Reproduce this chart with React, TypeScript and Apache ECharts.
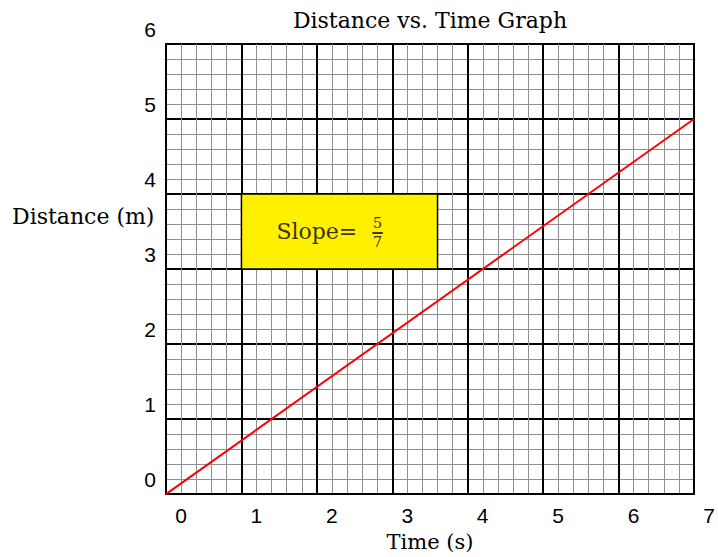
import React, { useEffect, useRef } from "react";
import * as echarts from "echarts";

const xRange = [0, 7];
const yRange = [0, 6];
const linePoints: [number, number][] = [[0, 0], [7, 5]];
const slopeBox: [number, number][] = [[1, 3], [3.6, 4]];
const slopeText = "Slope=";
const slopeNum = "5";
const slopeDen = "7";
const titleText = "Distance vs. Time Graph";
const xName = "Time (s)";
const yName = "Distance (m)";

const SERIF = "'DejaVu Serif', 'Liberation Serif', serif";
const SANS = "'Liberation Sans', Arial, Helvetica, sans-serif";

export default function App() {
  const ref = useRef<HTMLDivElement>(null);
  useEffect(() => {
    if (!ref.current) return;
    const chart = echarts.init(ref.current, undefined, { renderer: "svg" });
    const axisCommon = {
      type: "value" as const,
      interval: 1,
      axisLine: { show: true, lineStyle: { color: "#000", width: 2 } },
      axisTick: { show: false },
      splitLine: { show: true, lineStyle: { color: "#000", width: 2 } },
      minorTick: { show: false, splitNumber: 5 },
      minorSplitLine: { show: true, lineStyle: { color: "#8f8f8f", width: 1 } },
    };
    chart.setOption({
      animation: false,
      grid: {
        left: 166, right: 24, top: 44, bottom: 61,
        show: true, borderColor: "#000", borderWidth: 2,
      },
      xAxis: {
        ...axisCommon,
        min: xRange[0], max: xRange[1],
        name: xName,
        nameLocation: "middle",
        nameGap: 34,
        nameTextStyle: { fontFamily: SERIF, fontSize: 21, color: "#000" },
        axisLabel: {
          show: true, color: "#000", fontFamily: SANS, fontSize: 21, margin: 11,
          padding: [0, 0, 0, 30], showMinLabel: true, showMaxLabel: true,
        },
      },
      yAxis: {
        ...axisCommon,
        min: yRange[0], max: yRange[1],
        axisLabel: {
          show: true, color: "#000", fontFamily: SANS, fontSize: 21, margin: 10,
          verticalAlign: "bottom", lineHeight: 30,
          showMinLabel: true, showMaxLabel: true,
        },
      },
      graphic: [
        {
          type: "text", x: 430, y: 20,
          style: { text: titleText, fontFamily: SERIF, fontSize: 22, fill: "#000", align: "center", verticalAlign: "middle" },
        },
        {
          type: "text", x: 12, y: 216,
          style: { text: yName, fontFamily: SERIF, fontSize: 22, fill: "#000", verticalAlign: "middle", align: "left" },
        },
      ],
      series: [
        {
          type: "line",
          data: linePoints,
          symbol: "none",
          lineStyle: { color: "#ff0000", width: 2 },
          z: 5,
          markArea: {
            silent: true,
            itemStyle: { color: "#fff000", borderColor: "#000", borderWidth: 1.5 },
            label: { show: false },
            data: [[{ coord: slopeBox[0] }, { coord: slopeBox[1] }]],
          },
        },
        {
          type: "scatter",
          symbolSize: 0,
          z: 6,
          silent: true,
          data: [
            { value: [2.0, 3.5], label: { show: true, position: "inside", formatter: slopeText, fontFamily: SERIF, fontSize: 22, color: "#000" } },
            { value: [2.805, 3.62], label: { show: true, position: "inside", formatter: slopeNum, fontFamily: SERIF, fontSize: 15, color: "#000" } },
            { value: [2.805, 3.36], label: { show: true, position: "inside", formatter: slopeDen, fontFamily: SERIF, fontSize: 15, color: "#000" } },
          ],
          markLine: {
            silent: true,
            symbol: "none",
            label: { show: false },
            lineStyle: { color: "#000", width: 1.5, type: "solid" },
            data: [[{ coord: [2.735, 3.485] }, { coord: [2.875, 3.485] }]],
          },
        },
      ],
    });
    return () => chart.dispose();
  }, []);
  return (
    <div
      ref={ref}
      style={{ position: "fixed", left: 0, top: 0, width: 718, height: 557, background: "#fff" }}
    />
  );
}
